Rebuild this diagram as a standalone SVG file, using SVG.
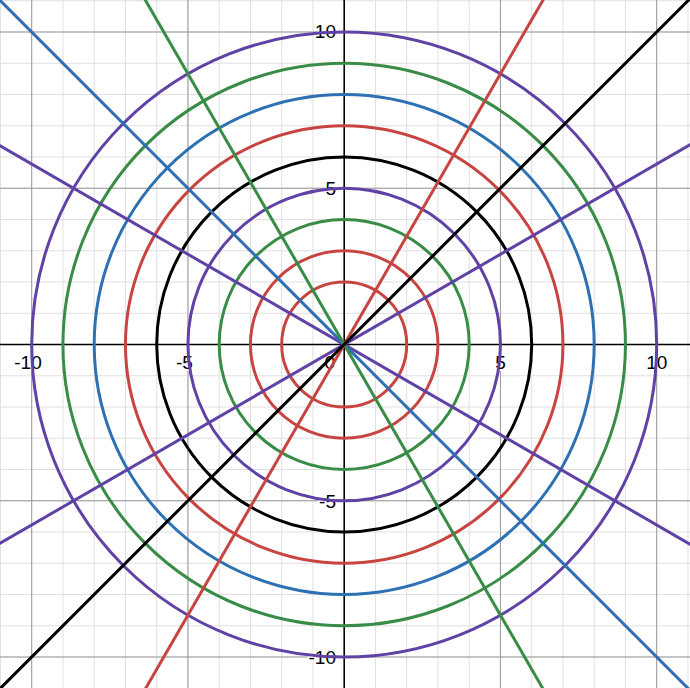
<svg xmlns="http://www.w3.org/2000/svg" width="690" height="688" viewBox="0 0 690 688">
<style>
.minor{stroke:#e0e0e0;stroke-width:1;fill:none}
.major{stroke:#999;stroke-width:1;fill:none}
.axis{stroke:#000;stroke-width:1.6;fill:none}
.lbl{font-family:"Liberation Sans",Arial,sans-serif;font-size:19px;fill:#000;stroke:#fff;stroke-width:4;paint-order:stroke;stroke-linejoin:round}
.c{fill:none;stroke-width:3}
.red{stroke:#c74440}.blue{stroke:#2d70b3}.green{stroke:#388c46}.purple{stroke:#6042a6}.black{stroke:#000}
</style>
<rect width="690" height="688" fill="#fff"/>
<g id="grid-minor">
<path class="minor" d="M0.45 0V688M31.7 0V688M62.95 0V688M94.2 0V688M125.45 0V688M156.7 0V688M187.95 0V688M219.2 0V688M250.45 0V688M281.7 0V688M312.95 0V688M375.45 0V688M406.7 0V688M437.95 0V688M469.2 0V688M500.45 0V688M531.7 0V688M562.95 0V688M594.2 0V688M625.45 0V688M656.7 0V688M687.95 0V688"/>
<path class="minor" d="M0 0.75H690M0 32H690M0 63.25H690M0 94.5H690M0 125.75H690M0 157H690M0 188.25H690M0 219.5H690M0 250.75H690M0 282H690M0 313.25H690M0 375.75H690M0 407H690M0 438.25H690M0 469.5H690M0 500.75H690M0 532H690M0 563.25H690M0 594.5H690M0 625.75H690M0 657H690"/>
</g>
<g id="grid-major">
<path class="major" d="M31.7 0V688M187.95 0V688M500.45 0V688M656.7 0V688M0 32H690M0 188.25H690M0 500.75H690M0 657H690"/>
</g>
<g id="axes">
<path class="axis" d="M0 344.5H690M344.2 0V688"/>
</g>
<g id="labels">
<text class="lbl" x="28" y="369" text-anchor="middle">-10</text>
<text class="lbl" x="184.5" y="369" text-anchor="middle">-5</text>
<text class="lbl" x="335" y="369" text-anchor="end">0</text>
<text class="lbl" x="500.5" y="369" text-anchor="middle">5</text>
<text class="lbl" x="656.7" y="369" text-anchor="middle">10</text>
<text class="lbl" x="336" y="38" text-anchor="end">10</text>
<text class="lbl" x="336" y="194.5" text-anchor="end">5</text>
<text class="lbl" x="336" y="507.5" text-anchor="end">-5</text>
<text class="lbl" x="336" y="664" text-anchor="end">-10</text>
</g>
<g id="circles">
<circle class="c red" cx="344.2" cy="344.5" r="62.5"/>
<circle class="c red" cx="344.2" cy="344.5" r="93.75"/>
<circle class="c green" cx="344.2" cy="344.5" r="125"/>
<circle class="c purple" cx="344.2" cy="344.5" r="156.25"/>
<circle class="c black" cx="344.2" cy="344.5" r="187.5"/>
<circle class="c red" cx="344.2" cy="344.5" r="218.75"/>
<circle class="c blue" cx="344.2" cy="344.5" r="250"/>
<circle class="c green" cx="344.2" cy="344.5" r="281.25"/>
<circle class="c purple" cx="344.2" cy="344.5" r="312.5"/>
</g>
<g id="rays">
<line class="c purple" x1="-348.6" y1="744.5" x2="1037" y2="-55.5"/>
<line class="c purple" x1="-348.6" y1="-55.5" x2="1037" y2="744.5"/>
<line class="c blue" x1="-455.8" y1="-455.5" x2="1144.2" y2="1144.5"/>
<line class="c green" x1="-55.8" y1="-348.3" x2="744.2" y2="1037.3"/>
<line class="c red" x1="-55.8" y1="1037.3" x2="744.2" y2="-348.3"/>
<line class="c black" x1="-455.8" y1="1144.5" x2="1144.2" y2="-455.5"/>
</g>
</svg>
